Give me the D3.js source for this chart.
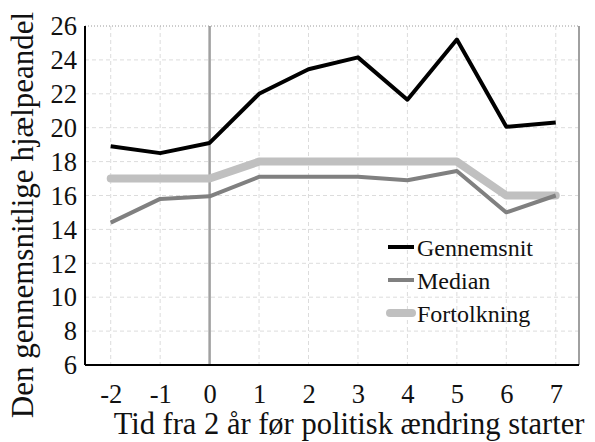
<!DOCTYPE html>
<html>
<head>
<meta charset="utf-8">
<script src="https://cdn.jsdelivr.net/npm/d3@7"></script>
<style>
  body { margin: 0; background: #fff; }
</style>
</head>
<body>
<svg id="chart" width="595" height="442"></svg>
<script>
// data
var years = [-2, -1, 0, 1, 2, 3, 4, 5, 6, 7];
var gennemsnit = [18.9, 18.5, 19.1, 22.0, 23.45, 24.15, 21.65, 25.2, 20.05, 20.3];
var median = [14.4, 15.8, 15.95, 17.1, 17.1, 17.1, 16.9, 17.45, 15.0, 16.0];
var fortolkning = [17, 17, 17, 18, 18, 18, 18, 18, 16, 16];
var yTicks = [6, 8, 10, 12, 14, 16, 18, 20, 22, 24, 26];

var series = [
  { name: "Gennemsnit", values: gennemsnit, color: "#000000", width: 4 },
  { name: "Median", values: median, color: "#808080", width: 4 },
  { name: "Fortolkning", values: fortolkning, color: "#c0c0c0", width: 8 }
];

var serif = "'Liberation Serif', 'Times New Roman', 'DejaVu Serif', serif";

var margin = { top: 26, right: 16, bottom: 77, left: 85 };
var svg = d3.select("#chart");
var width = 595 - margin.left - margin.right;
var height = 442 - margin.top - margin.bottom;

var g = svg.append("g").attr("transform", "translate(" + margin.left + "," + margin.top + ")");

var x = d3.scaleLinear().domain([-2.52, 7.47]).range([0, width]);
var y = d3.scaleLinear().domain([6, 26]).range([height, 0]);

// grid
g.append("g").selectAll("line").data(years).join("line")
  .attr("x1", function (d) { return x(d); }).attr("x2", function (d) { return x(d); })
  .attr("y1", 0).attr("y2", height)
  .attr("stroke", "#dcdcdc").attr("stroke-dasharray", "4,3").attr("stroke-width", 1);
g.append("g").selectAll("line").data(yTicks).join("line")
  .attr("x1", 0).attr("x2", width)
  .attr("y1", function (d) { return y(d); }).attr("y2", function (d) { return y(d); })
  .attr("stroke", function (d) { return d === 26 ? "#9a9a9a" : "#dcdcdc"; })
  .attr("stroke-dasharray", function (d) { return d === 26 ? "1,2" : "4,3"; })
  .attr("stroke-width", 1);

// right border
g.append("line").attr("x1", width).attr("x2", width).attr("y1", 0).attr("y2", height)
  .attr("stroke", "#a0a0a0").attr("stroke-width", 2);

// policy change marker
g.append("line").attr("x1", x(0)).attr("x2", x(0)).attr("y1", 0).attr("y2", height)
  .attr("stroke", "#a0a0a0").attr("stroke-width", 2.5);

// axes
var fmt = function (d) { return String(d); };
var yAxis = g.append("g").call(d3.axisLeft(y).tickValues(yTicks).tickFormat(fmt).tickSize(0).tickPadding(8));
var xAxis = g.append("g").attr("transform", "translate(0," + height + ")")
  .call(d3.axisBottom(x).tickValues(years).tickFormat(fmt).tickSize(0).tickPadding(0));
[yAxis, xAxis].forEach(function (a) {
  a.attr("font-family", null).attr("font-size", null);
  a.select(".domain").attr("stroke", "#000").attr("stroke-width", 2);
  a.selectAll("text").style("font-family", serif).style("font-size", "26.5px").attr("fill", "#111");
});
yAxis.selectAll("text").attr("dy", "0.33em");
xAxis.selectAll("text").attr("y", 38).attr("dy", 0);
xAxis.select(".domain").attr("d", "M0,0H" + width);
yAxis.select(".domain").attr("d", "M0,0V" + height);

// lines
var line = d3.line()
  .x(function (d, i) { return x(years[i]); })
  .y(function (d) { return y(d); });

series.slice().reverse().forEach(function (s) {
  g.append("path").datum(s.values)
    .attr("d", line)
    .attr("fill", "none")
    .attr("stroke", s.color)
    .attr("stroke-width", s.width)
    .attr("stroke-linejoin", "round")
    .attr("stroke-linecap", s.width > 5 ? "round" : "butt");
});

// legend
var leg = svg.append("g").attr("transform", "translate(388,247)");
series.forEach(function (s, i) {
  var row = leg.append("g").attr("transform", "translate(0," + (i * 33) + ")");
  row.append("line").attr("x1", s.width > 5 ? 2 : 0).attr("x2", s.width > 5 ? 24 : 26)
    .attr("stroke", s.color).attr("stroke-width", s.width)
    .attr("stroke-linecap", s.width > 5 ? "round" : "butt");
  row.append("text").attr("x", 29).attr("y", 9)
    .style("font-family", serif).style("font-size", "24px").attr("fill", "#111")
    .text(s.name);
});

// axis titles
svg.append("text")
  .attr("x", 349).attr("y", 434)
  .attr("text-anchor", "middle")
  .style("font-family", serif).style("font-size", "30.5px").attr("fill", "#111")
  .text("Tid fra 2 år før politisk ændring starter");

svg.append("text")
  .attr("transform", "translate(33,215) rotate(-90)")
  .attr("text-anchor", "middle")
  .style("font-family", serif).style("font-size", "31px").attr("fill", "#111")
  .text("Den gennemsnitlige hjælpeandel");
</script>
</body>
</html>
